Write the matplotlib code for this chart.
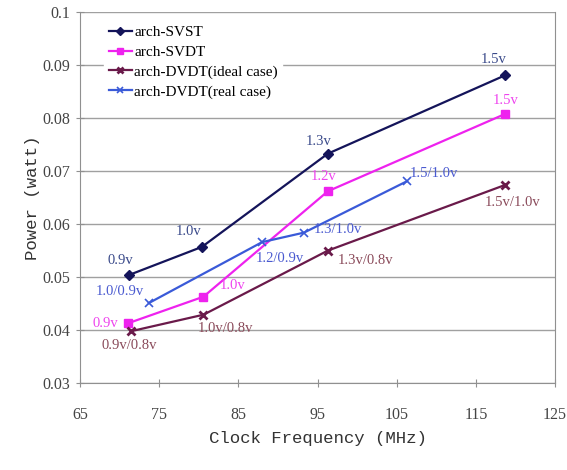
import matplotlib
matplotlib.use("Agg")
import matplotlib.pyplot as plt

plt.rcParams['font.family'] = ['Liberation Serif', 'DejaVu Serif']

# Data
svst_x = [71.2, 80.4, 96.3, 118.7]
svst_y = [0.0504, 0.0557, 0.0733, 0.0881]
svst_lbl = ["0.9v", "1.0v", "1.3v", "1.5v"]

svdt_x = [71.1, 80.6, 96.3, 118.7]
svdt_y = [0.0413, 0.0463, 0.0662, 0.0808]
svdt_lbl = ["0.9v", "1.0v", "1.2v", "1.5v"]

ideal_x = [71.5, 80.6, 96.3, 118.7]
ideal_y = [0.0398, 0.0429, 0.0550, 0.0674]
ideal_lbl = ["0.9v/0.8v", "1.0v/0.8v", "1.3v/0.8v", "1.5v/1.0v"]

real_x = [73.7, 88.0, 93.3, 106.3]
real_y = [0.0451, 0.0566, 0.0584, 0.0681]
real_lbl = ["1.0/0.9v", "1.2/0.9v", "1.3/1.0v", "1.5/1.0v"]

x_ticks = [65, 75, 85, 95, 105, 115, 125]
y_ticks = [0.03, 0.04, 0.05, 0.06, 0.07, 0.08, 0.09, 0.1]
y_ticklabels = ["0.03", "0.04", "0.05", "0.06", "0.07", "0.08", "0.09", "0.1"]

fig = plt.figure(figsize=(5.67, 4.70), dpi=100)
ax = fig.add_axes([0.141, 0.185, 0.838, 0.789])

c_svst = "#14145a"
c_svdt = "#ee22ee"
c_ideal = "#6a1a4a"
c_real = "#3a5ad8"

ax.plot(svst_x, svst_y, color=c_svst, marker='D', ms=5, lw=1.6, label="arch-SVST")
ax.plot(svdt_x, svdt_y, color=c_svdt, marker='s', ms=6, lw=1.6, label="arch-SVDT")
ax.plot(ideal_x, ideal_y, color=c_ideal, marker='x', ms=6, mew=2, lw=1.6, label="arch-DVDT(ideal case)")
ax.plot(real_x, real_y, color=c_real, marker='x', ms=6, mew=1.2, lw=1.6, label="arch-DVDT(real case)")

k = 0.72  # px -> pt
svst_off = [(-9, 14), (-13, 15), (-9, 12), (-12, 16)]
svdt_off = [(-23, 0), (29, 11), (-4, 15), (0, 13)]
ideal_off = [(-2, -14), (22, -14), (38, -10), (7, -18)]
real_off = [(-29, 12), (18, -16), (34, 3), (27, 8)]

def label_series(xs, ys, lbls, offs, col):
    for x, y, t, (dx, dy) in zip(xs, ys, lbls, offs):
        ax.annotate(t, (x, y), xytext=(dx * k, dy * k), textcoords='offset points',
                    ha='center', va='center', color=col, fontsize=10.5)

label_series(svst_x, svst_y, svst_lbl, svst_off, "#3a4a8a")
label_series(svdt_x, svdt_y, svdt_lbl, svdt_off, "#ee44ee")
label_series(ideal_x, ideal_y, ideal_lbl, ideal_off, "#8a4a5a")
label_series(real_x, real_y, real_lbl, real_off, "#4a5ad0")

ax.set_xlim(65, 125)
ax.set_ylim(0.03, 0.1)
ax.set_xticks(x_ticks)
ax.set_yticks(y_ticks)
ax.set_yticklabels(y_ticklabels)
ax.grid(axis='y', color='#a0a0a0', lw=1)
ax.set_axisbelow(True)
for s in ['left', 'bottom', 'right']:
    ax.spines[s].set_color('#909090')
ax.spines['top'].set_visible(False)
ax.tick_params(axis='both', direction='inout', length=6, color='#909090',
               labelsize=11.5, labelcolor='#444444')
ax.tick_params(axis='x', pad=14)
ax.tick_params(axis='y', pad=4)

ax.set_xlabel("Clock Frequency (MHz)", fontsize=12.5, color='#333333', labelpad=6,
              family=['Liberation Mono', 'DejaVu Sans Mono'])
ax.set_ylabel("Power (watt)", fontsize=12.5, color='#333333', labelpad=2,
              family=['Liberation Mono', 'DejaVu Sans Mono'])

leg = ax.legend(loc='upper left', bbox_to_anchor=(0.045, 0.985), frameon=True,
                fontsize=11, handlelength=1.5, handletextpad=0.15,
                labelspacing=0.4, borderaxespad=0.2, borderpad=0.3, fancybox=False,
                markerscale=0.8)
leg.get_frame().set_edgecolor('white')
leg.get_frame().set_facecolor('white')
leg.get_frame().set_alpha(1)

fig.savefig("out.png", dpi=100)
